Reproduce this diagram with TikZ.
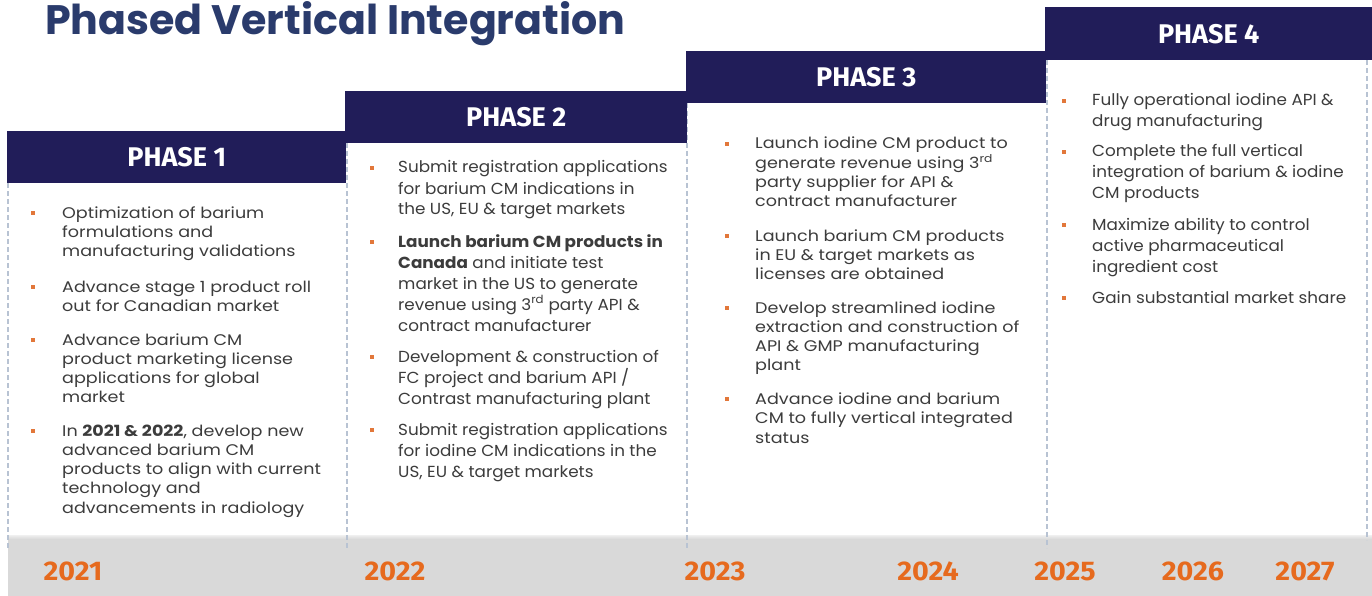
\documentclass[tikz,border=0pt]{standalone}
\usepackage{fontspec}
\usepackage{graphicx}
\setmainfont{Poppins}
\newfontfamily\hdfont{Fira Sans}
\definecolor{navy}{HTML}{211D59}
\definecolor{titleblue}{HTML}{2A3B6C}
\definecolor{txtgray}{HTML}{3C3C3C}
\definecolor{bulorange}{HTML}{E2773A}
\definecolor{yearorange}{HTML}{E66A1E}
\definecolor{bandgray}{HTML}{D9D9D9}
\definecolor{dashblue}{HTML}{B8C3D3}
\newcommand\Tline[1]{\hbox{#1}}
\newcommand\Blk[2]{\vtop{\baselineskip=#1pt\relax\lineskiplimit=-20pt\relax #2}}
\newcommand\BlkA[2]{\scalebox{1.14}[1]{\Blk{#1}{#2}}}
\newcommand\BlkB[2]{\scalebox{1.05}[1]{\Blk{#1}{#2}}}
\tikzset{
  hdr/.style={fill=navy, text=white, anchor=north west, inner sep=0pt,
    font=\hdfont\bfseries\fontsize{27}{27}\selectfont},
  bul/.style={fill=bulorange, minimum size=4.5pt, inner sep=0pt},
  itemA/.style={anchor=base west, inner sep=0pt, text=txtgray, font=\fontsize{15.4}{19}\selectfont},
  itemB/.style={anchor=base west, inner sep=0pt, text=txtgray, font=\fontsize{16}{21}\selectfont},
  year/.style={text=yearorange, inner sep=0pt, font=\hdfont\bfseries\fontsize{27}{27}\selectfont},
  sep/.style={draw=dashblue, line width=1.2pt, dash pattern=on 5pt off 3pt},
}
\newcommand\Ph[1]{\scalebox{1.0}[1]{PHASE #1}}
\newcommand\Yr[1]{\scalebox{1.06}[1]{#1}}
\begin{document}
\begin{tikzpicture}[x=1pt,y=-1pt]
\useasboundingbox (0,0) rectangle (1372,596);
\fill[white] (0,0) rectangle (1372,596);
% title
\node[anchor=base west, inner sep=0pt, text=titleblue] (title) at (45,35)
  {\resizebox{580pt}{!}{\bfseries Phased Vertical Integration}};
% gray band
\fill[bandgray] (8,537) rectangle (1372,596);
\fill[top color=bandgray!40!white, bottom color=bandgray] (8,535) rectangle (1372,539);
% separators
\draw[sep] (8,183) -- (8,548);
\draw[sep] (347,143) -- (347,548);
\draw[sep] (687,103) -- (687,548);
\draw[sep] (1047,60) -- (1047,548);
\draw[sep] (1367,60) -- (1367,540);
% headers
\node[hdr, minimum width=339pt, minimum height=52pt] (h1) at (7,131) {\Ph{1}};
\node[hdr, minimum width=342pt, minimum height=52pt] (h2) at (345,91) {\Ph{2}};
\node[hdr, minimum width=360pt, minimum height=52pt] (h3) at (686,51) {\Ph{3}};
\node[hdr, minimum width=327pt, minimum height=53pt] (h4) at (1045,7) {\Ph{4}};
% phase 1
\node[bul] (b1a) at (33,213) {};
\node[itemA] (p1a) at (62,218) {\BlkA{19.3}{\Tline{Optimization of barium}\Tline{formulations and}\Tline{manufacturing validations}}};
\node[bul] (b1b) at (33,287) {};
\node[itemA] (p1b) at (62,292) {\BlkA{19.3}{\Tline{Advance stage 1 product roll}\Tline{out for Canadian market}}};
\node[bul] (b1c) at (33,340) {};
\node[itemA] (p1c) at (62,345) {\BlkA{19.3}{\Tline{Advance barium CM}\Tline{product marketing license}\Tline{applications for global}\Tline{market}}};
\node[bul] (b1d) at (33,431) {};
\node[itemA] (p1d) at (62,436) {\BlkA{19.3}{\Tline{In \textbf{2021 \& 2022}, develop new}\Tline{advanced barium CM}\Tline{products to align with current}\Tline{technology and}\Tline{advancements in radiology}}};
% phase 2
\node[bul] (b2a) at (372,168) {};
\node[itemB] (p2a) at (398,173) {\BlkB{21}{\Tline{Submit registration applications}\Tline{for barium CM indications in}\Tline{the US, EU \& target markets}}};
\node[bul] (b2b) at (372,242) {};
\node[itemB] (p2b) at (398,247) {\BlkB{21}{\Tline{\textbf{Launch barium CM products in}}\Tline{\textbf{Canada} and initiate test}\Tline{market in the US to generate}\Tline{revenue using 3\textsuperscript{rd} party API \&}\Tline{contract manufacturer}}};
\node[bul] (b2c) at (372,357) {};
\node[itemB] (p2c) at (398,362) {\BlkB{21}{\Tline{Development \& construction of}\Tline{FC project and barium API /}\Tline{Contrast manufacturing plant}}};
\node[bul] (b2d) at (372,430) {};
\node[itemB] (p2d) at (398,435) {\BlkB{21}{\Tline{Submit registration applications}\Tline{for iodine CM indications in the}\Tline{US, EU \& target markets}}};
% phase 3
\node[bul] (b3a) at (727,144) {};
\node[itemA] (p3a) at (755,149) {\BlkA{19.2}{\Tline{Launch iodine CM product to}\Tline{generate revenue using 3\textsuperscript{rd}}\Tline{party supplier for API \&}\Tline{contract manufacturer}}};
\node[bul] (b3b) at (727,236) {};
\node[itemA] (p3b) at (755,241) {\BlkA{19.2}{\Tline{Launch barium CM products}\Tline{in EU \& target markets as}\Tline{licenses are obtained}}};
\node[bul] (b3c) at (727,308) {};
\node[itemA] (p3c) at (755,313) {\BlkA{19.3}{\Tline{Develop streamlined iodine}\Tline{extraction and construction of}\Tline{API \& GMP manufacturing}\Tline{plant}}};
\node[bul] (b3d) at (727,399) {};
\node[itemA] (p3d) at (755,404) {\BlkA{19.5}{\Tline{Advance iodine and barium}\Tline{CM to fully vertical integrated}\Tline{status}}};
% phase 4
\node[bul] (b4a) at (1064,101) {};
\node[itemB] (p4a) at (1092,106) {\BlkB{21}{\Tline{Fully operational iodine API \&}\Tline{drug manufacturing}}};
\node[bul] (b4b) at (1064,152) {};
\node[itemB] (p4b) at (1092,157) {\BlkB{21}{\Tline{Complete the full vertical}\Tline{integration of barium \& iodine}\Tline{CM products}}};
\node[bul] (b4c) at (1064,225) {};
\node[itemB] (p4c) at (1092,230) {\BlkB{21}{\Tline{Maximize ability to control}\Tline{active pharmaceutical}\Tline{ingredient cost}}};
\node[bul] (b4d) at (1064,298) {};
\node[itemB] (p4d) at (1092,303) {\BlkB{21}{\Tline{Gain substantial market share}}};
% years
\node[year] (y21) at (73,571) {\Yr{2021}};
\node[year] (y22) at (395,571) {\Yr{2022}};
\node[year] (y23) at (715,571) {\Yr{2023}};
\node[year] (y24) at (928,571) {\Yr{2024}};
\node[year] (y25) at (1065,571) {\Yr{2025}};
\node[year] (y26) at (1193,571) {\Yr{2026}};
\node[year] (y27) at (1305,571) {\Yr{2027}};
\end{tikzpicture}
\end{document}
